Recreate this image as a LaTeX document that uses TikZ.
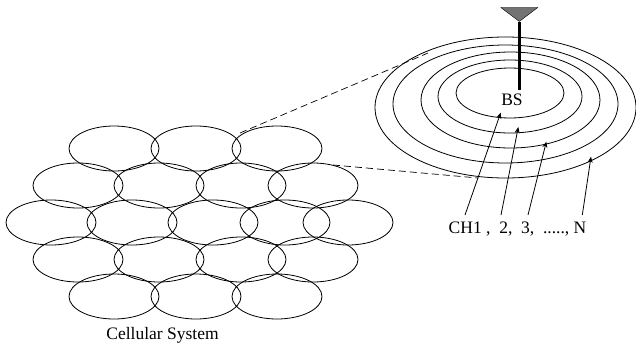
\documentclass[tikz,border=0pt]{standalone}
\usepackage{fontspec}
\setmainfont{Liberation Serif}
\usetikzlibrary{positioning, arrows.meta, shapes.geometric}

\begin{document}
\begin{tikzpicture}[
  x=1pt, y=-1pt,
  cell/.style={draw, ellipse, inner sep=0pt, minimum width=90pt, minimum height=45pt, line width=0.8pt},
  ring/.style={draw, ellipse, inner sep=0pt, line width=0.8pt},
  arrow/.style={-{Stealth[length=6pt, width=5pt]}, line width=0.8pt},
  link/.style={dashed, dash pattern=on 7pt off 4pt, line width=0.7pt},
  label/.style={font=\fontsize{17.5}{20}\selectfont, inner sep=0pt}
]
\useasboundingbox (0,0) rectangle (636,348);

% Cells
\foreach \name/\xc/\yc in {a/114/148.5, b/196/148.5, c/277/148.5,
    d/78/185.5, e/159/185.5, f/241/185.5, g/313/185.5,
    h/51/222.5, i/132/222.5, j/213/222.5, k/285/222.5, l/348/222.5,
    m/78/259.5, n/159/259.5, o/241/259.5, p/313/259.5,
    q/114/296.5, r/196/296.5, s/277/296.5}
  \node[cell] (cell\name) at (\xc,\yc) {};
\node[label] (system) at (162.5,335) {Cellular System};

% Rings
\node[ring, minimum width=261pt, minimum height=141pt] (ringa) at (505.5,107.5) {};
\node[ring, minimum width=225pt, minimum height=118pt] (ringb) at (505.5,104) {};
\node[ring, minimum width=179pt, minimum height=96pt] (ringc) at (510.5,100) {};
\node[ring, minimum width=144pt, minimum height=73pt] (ringd) at (510,96.5) {};
\node[ring, minimum width=108pt, minimum height=50pt] (ringe) at (510,93) {};

% Antenna
\node[draw, fill=black!55, isosceles triangle, isosceles triangle stretches, shape border rotate=-90,
  inner sep=0pt, minimum width=37pt, minimum height=14pt, anchor=apex, line width=0.4pt] (antenna) at (519.3,22) {};
\coordinate (mast) at (519.3,90);
\draw[line width=2.6pt] (antenna.apex) -- (mast);
\node[label] (bs) at (512,99.5) {BS};

% Labels
\node[label] (ch1) at (517.5,229) {CH1 ,\ \ 2,\ \ 3,\ \ ....., N};

% Arrows
\coordinate (t1) at (465,215); \coordinate (h1) at (500.7,112.7);
\coordinate (t2) at (501,215); \coordinate (h2) at (518.3,127);
\coordinate (t3) at (528,215); \coordinate (h3) at (546.3,141.7);
\coordinate (t4) at (582.3,215); \coordinate (h4) at (591,156.7);
\draw[arrow] (t1) -- (h1);
\draw[arrow] (t2) -- (h2);
\draw[arrow] (t3) -- (h3);
\draw[arrow] (t4) -- (h4);

% Dashed lines
\coordinate (d1) at (240,133); \coordinate (d2) at (428,53);
\coordinate (d3) at (333,165); \coordinate (d4) at (478,178);
\draw[link] (d1) -- (d2);
\draw[link] (d3) -- (d4);

\end{tikzpicture}
\end{document}
